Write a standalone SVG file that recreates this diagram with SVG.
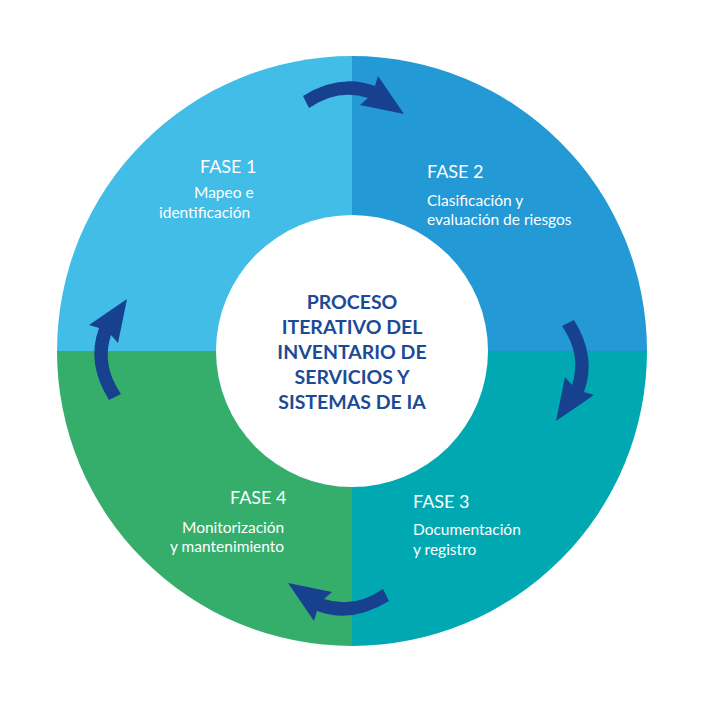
<svg xmlns="http://www.w3.org/2000/svg" width="704" height="701" viewBox="0 0 704 701">
<style>
.h{font-family:Lato,"Liberation Sans",sans-serif;font-size:18px;fill:#fff}
.d{font-family:Lato,"Liberation Sans",sans-serif;font-size:15.5px;fill:#fff}
.c{font-family:Lato,"Liberation Sans",sans-serif;font-size:19.5px;font-weight:bold;fill:#1D4A96;text-anchor:middle}
</style>
<defs>
<path id="arr" d="M303,96 Q340,73 375,86 L378,76 L404,114 L360,105 L368,98 Q338,88 309,108 Z" fill="#17418F"/>
</defs>
<rect width="704" height="701" fill="#fff"/>
<g id="q1"><path d="M352,351 L57,351 A295,295 0 0 1 352,56 Z" fill="#41BDE8"/></g>
<g id="q2"><path d="M352,351 L352,56 A295,295 0 0 1 647,351 Z" fill="#2399D6"/></g>
<g id="q3"><path d="M352,351 L647,351 A295,295 0 0 1 352,646 Z" fill="#00A9B2"/></g>
<g id="q4"><path d="M352,351 L352,646 A295,295 0 0 1 57,351 Z" fill="#35AE6B"/></g>
<g id="center"><circle cx="352" cy="351" r="136" fill="#fff"/>
<text class="c" x="352" y="309">PROCESO</text>
<text class="c" x="352" y="334">ITERATIVO DEL</text>
<text class="c" x="352" y="359">INVENTARIO DE</text>
<text class="c" x="352" y="384">SERVICIOS Y</text>
<text class="c" x="352" y="409">SISTEMAS DE IA</text>
</g>
<g id="connectors">
<use href="#arr"/>
<use href="#arr" transform="translate(-33 18) rotate(90 352 351)"/>
<use href="#arr" transform="translate(-12 -5) rotate(180 352 351)"/>
<use href="#arr" transform="translate(12 0) rotate(270 352 351)"/>
</g>
<g id="t1"><text class="h" x="200" y="173">FASE 1</text><text class="d" x="194" y="198">Mapeo e</text><text class="d" x="159" y="218">identificación</text></g>
<g id="t2"><text class="h" x="427" y="178">FASE 2</text><text class="d" x="427" y="206">Clasificación y</text><text class="d" x="427" y="225">evaluación de riesgos</text></g>
<g id="t3"><text class="h" x="413" y="508">FASE 3</text><text class="d" x="413" y="535">Documentación</text><text class="d" x="413" y="555">y registro</text></g>
<g id="t4"><text class="h" x="230" y="504">FASE 4</text><text class="d" x="182" y="533">Monitorización</text><text class="d" x="170" y="552">y mantenimiento</text></g>
</svg>
